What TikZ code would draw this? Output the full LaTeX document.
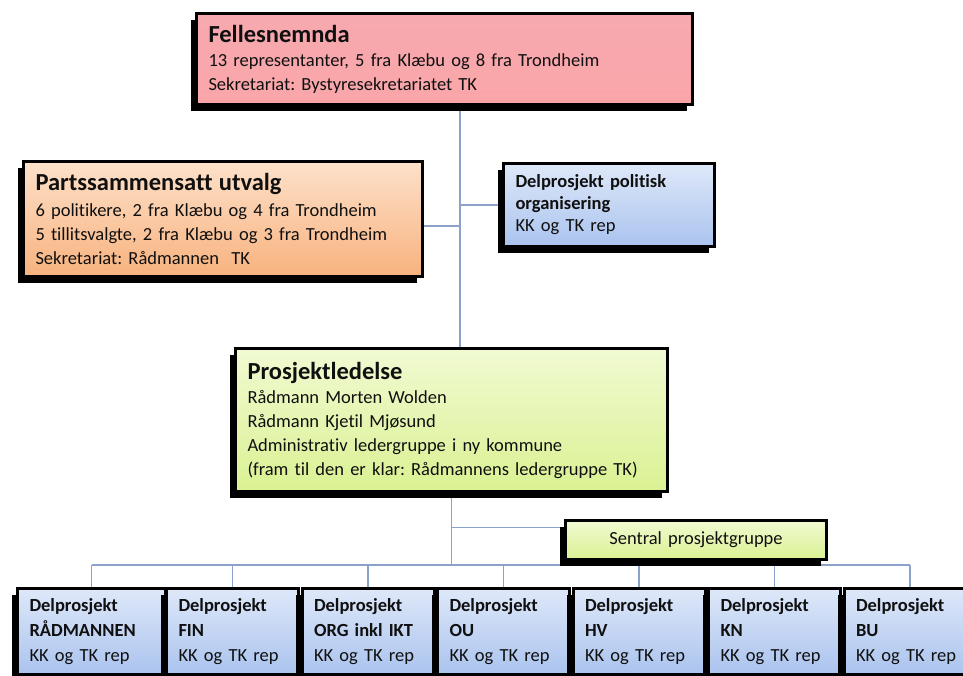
\documentclass[tikz,border=0pt]{standalone}
\usepackage{fontspec}
\setmainfont{Carlito}[Ligatures=NoCommon]
\usetikzlibrary{shadows,calc}
\frenchspacing

\definecolor{linkblue}{HTML}{8CA2CA}
\definecolor{inktext}{HTML}{101010}
\definecolor{pinktop}{HTML}{F6A9AF}
\definecolor{pinkmid}{HTML}{FBC9CB}
\definecolor{pinkbot}{HTML}{FAA6A9}
\definecolor{orangetop}{HTML}{FDE1CA}
\definecolor{orangebot}{HTML}{F8B27E}
\definecolor{bluetop}{HTML}{DEE8F9}
\definecolor{bluebot}{HTML}{AAC3EE}
\definecolor{greentop}{HTML}{F1FAD2}
\definecolor{greenbot}{HTML}{DAF192}

\pgfdeclarelayer{bg}
\pgfsetlayers{bg,main}

\newcommand{\boxtitle}[1]{{\fontsize{24.5}{25}\selectfont\bfseries #1}}

\tikzset{
  orgbox/.style={rectangle, draw=black, line width=3pt, anchor=north west,
    inner xsep=12pt, inner ysep=3pt, align=left, text=inktext,
    font=\fontsize{18.5}{24}\selectfont,
    drop shadow={shadow xshift=-6pt, shadow yshift=-6pt, fill=black, opacity=1}},
  pinkfill/.style={top color=pinktop, middle color=pinkmid, bottom color=pinkbot},
  orangefill/.style={top color=orangetop, bottom color=orangebot},
  bluefill/.style={top color=bluetop, bottom color=bluebot},
  greenfill/.style={top color=greentop, bottom color=greenbot},
  subbox/.style={orgbox, bluefill, minimum height=86pt,
    font=\fontsize{18.5}{25}\selectfont},
  link/.style={draw=linkblue, line width=1.4pt}
}

\begin{document}
\begin{tikzpicture}[x=1pt,y=-1pt]
\useasboundingbox (0,0) rectangle (963,675);
\clip (0,0) rectangle (963,675);
\begin{pgfonlayer}{bg}
  \fill[white] (0,0) rectangle (963,675);
\end{pgfonlayer}

% governing bodies
\node[orgbox, pinkfill, minimum width=496pt, minimum height=91pt, text width=472pt] (fn) at (195,12)
  {\boxtitle{Fellesnemnda}\\13 representanter, 5 fra Klæbu og 8 fra Trondheim\\Sekretariat: Bystyresekretariatet TK};

\node[orgbox, orangefill, minimum width=399pt, minimum height=115pt, text width=375pt] (ps) at (22,160)
  {\boxtitle{Partssammensatt utvalg}\\[2pt]6 politikere, 2 fra Klæbu og 4 fra Trondheim\\5 tillitsvalgte, 2 fra Klæbu og 3 fra Trondheim\\Sekretariat: Rådmannen\ \ TK};

\node[orgbox, bluefill, minimum width=211pt, minimum height=83pt, text width=187pt,
  font=\fontsize{18.5}{22}\selectfont] (dp) at (502,162)
  {\textbf{Delprosjekt politisk}\\\textbf{organisering}\\KK og TK rep};

\node[orgbox, greenfill, minimum width=432pt, minimum height=143pt, text width=408pt] (pl) at (234,347)
  {\boxtitle{Prosjektledelse}\\Rådmann Morten Wolden\\Rådmann Kjetil Mjøsund\\Administrativ ledergruppe i ny kommune\\(fram til den er klar: Rådmannens ledergruppe TK)};

\node[orgbox, greenfill, minimum width=261pt, minimum height=39pt, text width=237pt, align=center,
  inner ysep=2pt] (sg) at (564,519)
  {Sentral prosjektgruppe};

% sub-projects
\node[subbox, minimum width=146pt, text width=124pt] (d1) at (16,587)
  {\textbf{Delprosjekt}\\\textbf{RÅDMANNEN}\\KK og TK rep};
\node[subbox, minimum width=130pt, text width=108pt] (d2) at (165,587)
  {\textbf{Delprosjekt}\\\textbf{FIN}\\KK og TK rep};
\node[subbox, minimum width=130pt, text width=108pt] (d3) at (300.5,587)
  {\textbf{Delprosjekt}\\\textbf{ORG inkl IKT}\\KK og TK rep};
\node[subbox, minimum width=130pt, text width=108pt] (d4) at (436,587)
  {\textbf{Delprosjekt}\\\textbf{OU}\\KK og TK rep};
\node[subbox, minimum width=130pt, text width=108pt] (d5) at (571.5,587)
  {\textbf{Delprosjekt}\\\textbf{HV}\\KK og TK rep};
\node[subbox, minimum width=130pt, text width=108pt] (d6) at (707,587)
  {\textbf{Delprosjekt}\\\textbf{KN}\\KK og TK rep};
\node[subbox, minimum width=130pt, text width=108pt] (d7) at (842.5,587)
  {\textbf{Delprosjekt}\\\textbf{BU}\\KK og TK rep};

% connectors, kept under the boxes
\begin{pgfonlayer}{bg}
  \coordinate (spine) at (460,0);
  \coordinate (bus) at (0,565);
  \draw[link] (spine |- fn.south) -- (spine |- pl.north);
  \coordinate (psj) at ([yshift=-7pt]ps.east);
  \draw[link] (psj) -- (psj -| spine);
  \draw[link] (dp.west) -- (dp.west -| spine);
  \draw[link] (pl.south) -- (pl.south |- bus);
  \coordinate (sgj) at ($(sg.north west)!0.2!(sg.south west)$);
  \draw[link] (sgj) -- (sgj -| pl.south);
  \draw[link] (d1.north |- bus) -- (d7.north |- bus);
  \foreach \i in {1,...,7}
    \draw[link] (d\i.north) -- (d\i.north |- bus);
\end{pgfonlayer}
\end{tikzpicture}
\end{document}
